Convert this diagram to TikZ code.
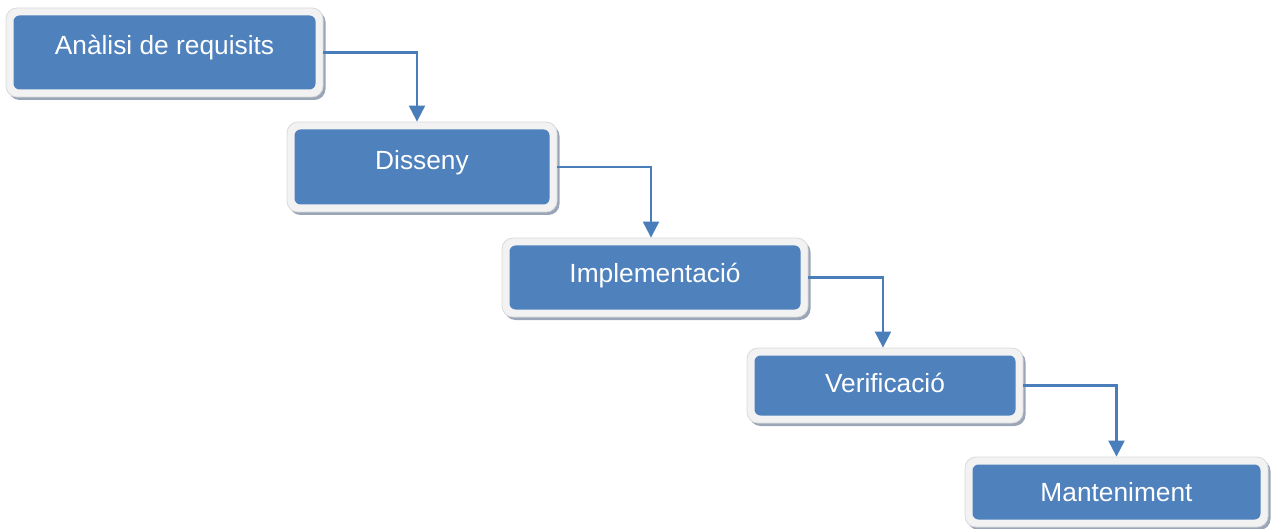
\documentclass[tikz,border=0pt]{standalone}
\usepackage{fontspec}
\setmainfont{Liberation Sans}
\usetikzlibrary{arrows.meta,shadows}

\definecolor{stageblue}{HTML}{4F81BD}
\definecolor{bandgrey}{HTML}{F2F2F2}
\definecolor{edgegrey}{HTML}{DADADA}
\definecolor{shadegrey}{HTML}{9AA6B8}
\definecolor{flowblue}{HTML}{4A7EBB}

\tikzset{
  stage/.style={
    draw=edgegrey, line width=0.8pt, fill=bandgrey,
    rounded corners=11pt, inner sep=0pt,
    drop shadow={shadow xshift=2.5pt, shadow yshift=-3pt, fill=shadegrey, opacity=1},
    font=\fontsize{26.3}{30}\selectfont, text=white,
    text height=19pt, text depth=#1,
    path picture={
      \fill[stageblue, rounded corners=6pt]
        ([shift={(7.5pt,-7.5pt)}]path picture bounding box.north west)
        rectangle
        ([shift={(-7.5pt,7.5pt)}]path picture bounding box.south east);
    }
  },
  stage/.default=14.5pt,
  flow/.style={draw=flowblue, line width=2.2pt,
    -{Triangle[width=16pt,length=16pt]}}
}

\begin{document}
\begin{tikzpicture}[x=1pt, y=-1pt]
  \useasboundingbox (0,0) rectangle (1271,529);

  % waterfall stages (text depth lifts the label within each box)
  \node[stage=14.5pt, minimum width=317pt, minimum height=89pt] (req) at (164.5,52.5) {Anàlisi de requisits};
  \node[stage=14.5pt, minimum width=270pt, minimum height=90pt] (des) at (422,167) {Disseny};
  \node[stage=9.5pt, minimum width=306pt, minimum height=79pt] (imp) at (655,277.5) {Implementació};
  \node[stage=5.5pt, minimum width=276pt, minimum height=75pt] (ver) at (885,385.5) {Verificació};
  \node[stage=0.5pt, minimum width=303pt, minimum height=70pt] (man) at (1116.5,492) {Manteniment};

  % step-down connectors
  \draw[flow] (req.east) -| ([xshift=-5pt]des.north);
  \draw[flow] (des.east) -| ([xshift=-4pt]imp.north);
  \draw[flow] (imp.east) -| ([xshift=-2pt]ver.north);
  \draw[flow] (ver.east) -| (man.north);
\end{tikzpicture}
\end{document}
